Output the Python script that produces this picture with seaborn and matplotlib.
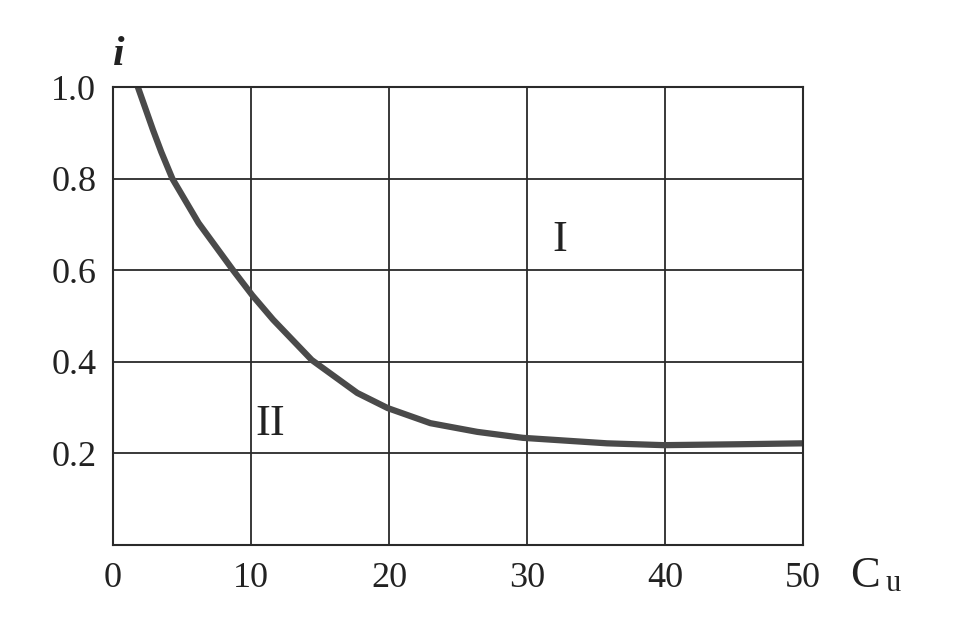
import matplotlib
matplotlib.use("Agg")
import matplotlib.pyplot as plt
import seaborn as sns
import pandas as pd

cu = [1.8, 2.9, 3.5, 4.3, 6.2, 8.7, 10.1, 11.6, 14.4, 17.7, 19.9, 23.0, 26.4, 29.7, 35.8, 39.9, 45.4, 50.0]
i_vals = [1.0, 0.906, 0.858, 0.80, 0.703, 0.60, 0.545, 0.492, 0.404, 0.332, 0.299, 0.266, 0.247, 0.234, 0.222, 0.218, 0.220, 0.222]
xticks = [0, 10, 20, 30, 40, 50]
yticks = [0.2, 0.4, 0.6, 0.8, 1.0]
ytick_labels = ["0.2", "0.4", "0.6", "0.8", "1.0"]

sns.set_style("white")
plt.rcParams["font.family"] = ["Liberation Serif", "DejaVu Serif"]

df = pd.DataFrame({"Cu": cu, "i": i_vals})

fig = plt.figure(figsize=(9.64, 6.25), dpi=100)
ax = fig.add_axes([113/964, 1-545/625, 690/964, 458/625])

sns.lineplot(data=df, x="Cu", y="i", ax=ax, color="#4a4a4a", linewidth=4.5,
             sort=True, solid_joinstyle="round", solid_capstyle="round")

ax.set_xlim(0, 50)
ax.set_ylim(0, 1.0)
ax.set_xticks(xticks)
ax.set_xticklabels([str(t) for t in xticks])
ax.set_yticks(yticks)
ax.set_yticklabels(ytick_labels)
ax.grid(True, color="#2a2a2a", linewidth=1.3)
for s in ax.spines.values():
    s.set_color("#2a2a2a")
    s.set_linewidth(1.5)
    s.set_visible(True)
ax.tick_params(axis="both", length=0, labelsize=26, colors="#222222")
ax.tick_params(axis="y", pad=12)
ax.tick_params(axis="x", pad=12)
ax.set_xlabel("")
ax.set_ylabel("")

ax.text(32.4, 0.665, "I", fontsize=32, ha="center", va="center", color="#222222")
ax.text(11.4, 0.265, "II", fontsize=32, ha="center", va="center", color="#222222")
ax.text(0.4, 1.07, "i", fontsize=30, style="italic", fontweight="bold",
        ha="center", va="center", color="#222222")
ax.text(54.5, -0.068, "C", fontsize=32, ha="center", va="center", color="#222222", clip_on=False)
ax.text(56.5, -0.085, "u", fontsize=22, ha="center", va="center", color="#222222", clip_on=False)

fig.savefig("out.png", dpi=100)
